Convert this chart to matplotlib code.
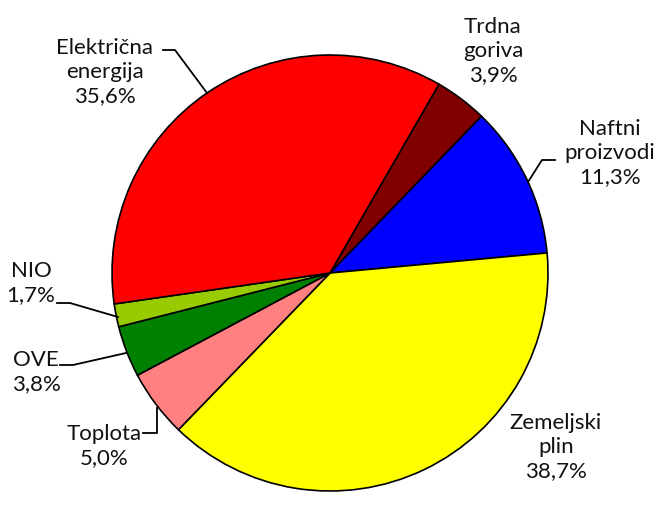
import matplotlib.pyplot as plt

plt.rcParams['font.family'] = ['Lato', 'DejaVu Sans']

labels = ['Trdna\ngoriva', 'Naftni\nproizvodi', 'Zemeljski\nplin', 'Toplota',
          'OVE', 'NIO', 'Električna\nenergija']
shares = [3.9, 11.3, 38.7, 5.0, 3.8, 1.7, 35.6]
colors = ['#800000', '#0000FF', '#FFFF00', '#FF8080', '#008000', '#99CC00', '#FF0000']

W, H = 661, 516
fig = plt.figure(figsize=(W / 100, H / 100), dpi=100)
ax = fig.add_axes([0, 0, 1, 1])
ax.axis('off')

ax.pie(shares, colors=colors, startangle=60, counterclock=False,
       center=(330, H - 273), radius=218,
       wedgeprops=dict(edgecolor='black', linewidth=1.2))
ax.set_xlim(0, W)
ax.set_ylim(0, H)
ax.set_aspect('equal')


def pct(v):
    return f'{v:.1f}%'.replace('.', ',')


# label position (text centre, pixels from top) and leader line points
label_pos = [(493, 51), (610, 153), (556, 447), (104, 446), (36, 372), (31, 283), (105, 72)]
leaders = [
    None,
    [(555, 160), (542, 160), (528, 182)],
    None,
    [(143, 433), (157, 433), (157, 408)],
    [(60, 365), (73, 365), (126, 353)],
    [(57, 303), (70, 303), (118, 317)],
    [(163, 50), (175, 50), (207, 93)],
]

for lab, v, (x, y), pts in zip(labels, shares, label_pos, leaders):
    ax.text(x, H - y, lab + '\n' + pct(v), ha='center', va='center',
            fontsize=16, linespacing=1.27, color='#111111')
    if pts:
        ax.plot([p[0] for p in pts], [H - p[1] for p in pts], color='black', lw=1.3)

fig.savefig('out.png', dpi=100)
